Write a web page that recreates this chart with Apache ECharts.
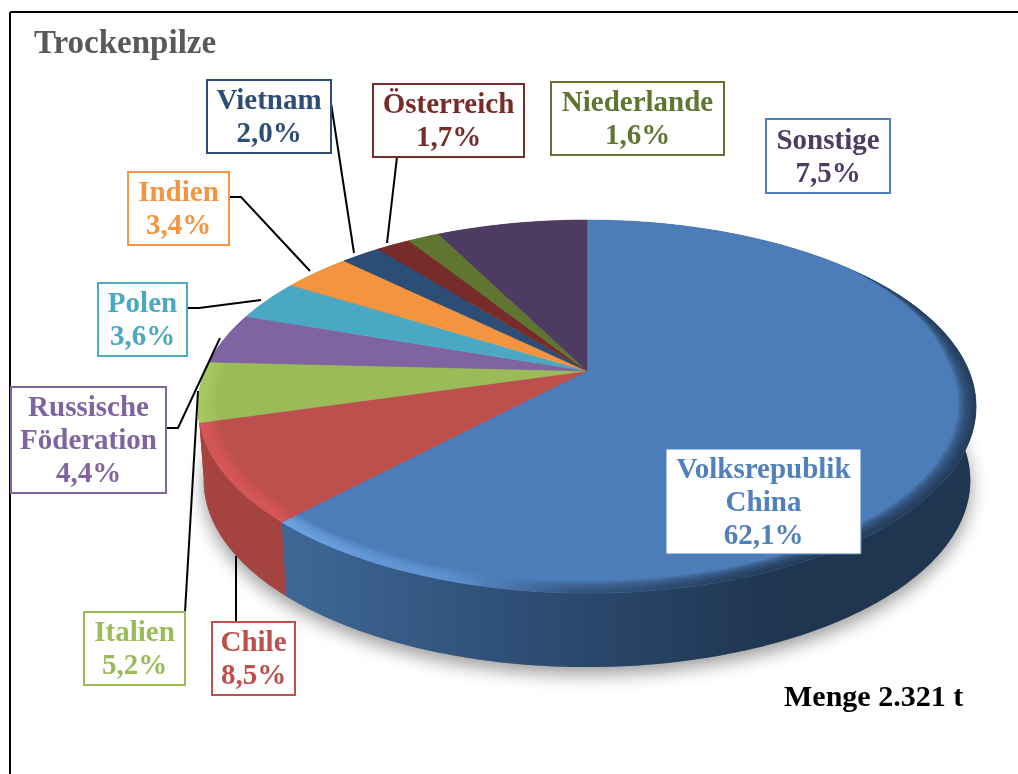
<!DOCTYPE html>
<html>
<head>
<meta charset="utf-8">
<style>
  html, body { margin: 0; padding: 0; background: #fff; }
  #chart { width: 1018px; height: 774px; }
</style>
<script src="https://cdn.jsdelivr.net/npm/echarts@6/dist/echarts.min.js"></script>
</head>
<body>
<div id="chart"></div>
<script>
const countries = ['Volksrepublik\nChina', 'Chile', 'Italien', 'Russische\nFöderation', 'Polen', 'Indien', 'Vietnam', 'Österreich', 'Niederlande', 'Sonstige']
const shares = [62.1, 8.5, 5.2, 4.4, 3.6, 3.4, 2.0, 1.7, 1.6, 7.5]

const sliceColors = ['#4d7db8', '#bd4f4c', '#9bbb59', '#8064a2', '#4aa8c4', '#f39440', '#2c4d75', '#772c2a', '#5f7530', '#4d3b62']
const sideColors = [null, '#a4433f', '#a4433f', '#69528a', '#3d8ba1', '#c97833', '#24405f', '#5f2322', '#4c5e26', '#3d2f4e']
const borderColors = ['#4f81bd', '#c0504d', '#9bbb59', '#8064a2', '#4bacc6', '#f79646', '#2c4d75', '#772c2a', '#5f7530', '#4f81bd']

// label boxes: x, y, w, h
const labelBoxes = [
  [666, 449, 195, 105], [212, 622, 83, 73], [84, 612, 101, 73], [11, 387, 155, 106], [98, 283, 89, 73],
  [128, 172, 101, 73], [207, 80, 124, 73], [373, 84, 151, 73], [551, 82, 173, 73], [766, 119, 124, 74]
]
const leaderLines = [
  null,
  [[236, 622], [236, 556]],
  [[185, 612], [198, 391]],
  [[166, 428], [178, 428], [220, 338]],
  [[188, 308], [199, 308], [261, 300]],
  [[229, 197], [241, 197], [310, 271]],
  [[331, 103], [354, 253]],
  [[397, 157], [387, 243]],
  null,
  null
]

const labelFont = 'bold 29px "Liberation Serif", serif'

// pie is seen in perspective, so circle points go through a projection around the apex
const apexX = 587
const apexY = 371
const scaleX = 382
const scaleY = 179.8
const tilt = 0.1904
const depth = 74

function project(deg, r) {
  const a = deg * Math.PI / 180
  const u = Math.sin(a) * r
  const v = Math.cos(a) * r
  const d = 1 + tilt * v
  return [apexX + scaleX * u / d, apexY - scaleY * v / d]
}

function projectBottom(deg) {
  const p = project(deg, 1)
  return [apexX + (p[0] - apexX) * 0.985, p[1] + depth]
}

function arc(fn, from, to) {
  const pts = []
  const steps = Math.max(2, Math.ceil(Math.abs(to - from)))
  for (let i = 0; i <= steps; i++) {
    pts.push(fn(from + (to - from) * i / steps))
  }
  return pts
}

const total = shares.reduce((a, b) => a + b, 0)
function sliceAngles(index) {
  let sum = 0
  for (let i = 0; i < index; i++) sum += shares[i]
  return [sum / total * 360, (sum + shares[index]) / total * 360]
}

function xGradient(x0, x1, stops) {
  return new echarts.graphic.LinearGradient(x0, 0, x1, 0, stops, true)
}

function renderSide(params, api) {
  const i = params.dataIndex
  const [from, to] = sliceAngles(i)
  const points = arc(d => project(d, 1), from, to).concat(arc(projectBottom, to, from))
  let fill = sideColors[i]
  if (i === 0) {
    fill = xGradient(290, 780, [
      { offset: 0, color: '#3f6796' },
      { offset: 0.45, color: '#2e4f76' },
      { offset: 1, color: '#1f3550' }
    ])
  }
  return { type: 'polygon', shape: { points }, style: { fill } }
}

function renderTop(params, api) {
  const i = params.dataIndex
  const [from, to] = sliceAngles(i)
  const points = [[apexX, apexY]].concat(arc(d => project(d, 1), from, to))
  const children = [{
    type: 'polygon',
    shape: { points },
    style: { fill: sliceColors[i], stroke: sliceColors[i], lineWidth: 0.5 }
  }]
  // soft bevel along the rim, only where the side wall shows
  if (i <= 2) {
    let rimFill = i === 1 ? '#dd5c5a' : '#a9cb66'
    if (i === 0) {
      rimFill = xGradient(290, 760, [
        { offset: 0, color: '#74aaea' },
        { offset: 0.35, color: '#5e94d4' },
        { offset: 0.6, color: '#2f4e74' },
        { offset: 1, color: '#1c3049' }
      ])
    }
    const start = Math.max(from, 50)
    const taper = d => Math.min(1, (d - 50) / 35)
    for (let k = 1; k <= 8; k++) {
      const inner = d => project(d, 1 - 0.0055 * k * taper(d))
      const strip = arc(d => project(d, 1), start, to).concat(arc(inner, to, start))
      children.push({
        type: 'polygon',
        shape: { points: strip },
        style: { fill: rimFill, opacity: 0.2 }
      })
    }
  }
  return { type: 'group', children }
}

function renderLeader(params, api) {
  const line = leaderLines[params.dataIndex]
  if (!line) return null
  return {
    type: 'polyline',
    shape: { points: line },
    style: { fill: 'none', stroke: '#000', lineWidth: 2 }
  }
}

function renderLabel(params, api) {
  const i = params.dataIndex
  const [x, y, w, h] = labelBoxes[i]
  const pct = api.value(0).toFixed(1).replace('.', ',') + '%'
  return {
    type: 'group',
    children: [
      {
        type: 'rect',
        shape: { x, y, width: w, height: h },
        style: { fill: '#fff', stroke: borderColors[i], lineWidth: i === 0 ? 1 : 2 }
      },
      {
        type: 'text',
        style: {
          x: x + w / 2,
          y: y + h / 2 + 2,
          text: countries[i] + '\n' + pct,
          font: labelFont,
          lineHeight: 33,
          align: 'center',
          verticalAlign: 'middle',
          fill: i === 0 ? '#4f81bd' : sliceColors[i]
        }
      }
    ]
  }
}

const chart = echarts.init(document.getElementById('chart'))

function customSeries(renderItem, z) {
  return { type: 'custom', coordinateSystem: 'none', data: shares, renderItem, z, silent: true, animation: false, clip: false }
}

chart.setOption({
  animation: false,
  backgroundColor: '#fff',
  title: [
    {
      text: 'Trockenpilze',
      left: 29,
      top: 23,
      textStyle: { fontFamily: 'Liberation Serif', fontWeight: 'bold', fontSize: 33, color: '#595959' }
    },
    {
      text: 'Menge 2.321 t',
      left: 779,
      top: 678,
      textStyle: { fontFamily: 'Liberation Serif', fontWeight: 'bold', fontSize: 30, color: '#000' }
    }
  ],
  graphic: [
    { type: 'line', z: 0, shape: { x1: 10, y1: 12, x2: 10, y2: 774 }, style: { stroke: '#000', lineWidth: 2 } },
    { type: 'line', z: 0, shape: { x1: 10, y1: 12, x2: 1018, y2: 12 }, style: { stroke: '#000', lineWidth: 2 } },
    {
      type: 'polygon',
      z: 0,
      shape: { points: arc(projectBottom, 60, 300) },
      style: { fill: '#777', shadowBlur: 18, shadowOffsetY: 7, shadowColor: 'rgba(0,0,0,0.4)' }
    }
  ],
  series: [
    customSeries(renderSide, 2),
    customSeries(renderTop, 3),
    customSeries(renderLeader, 4),
    customSeries(renderLabel, 5)
  ]
})
</script>
</body>
</html>
